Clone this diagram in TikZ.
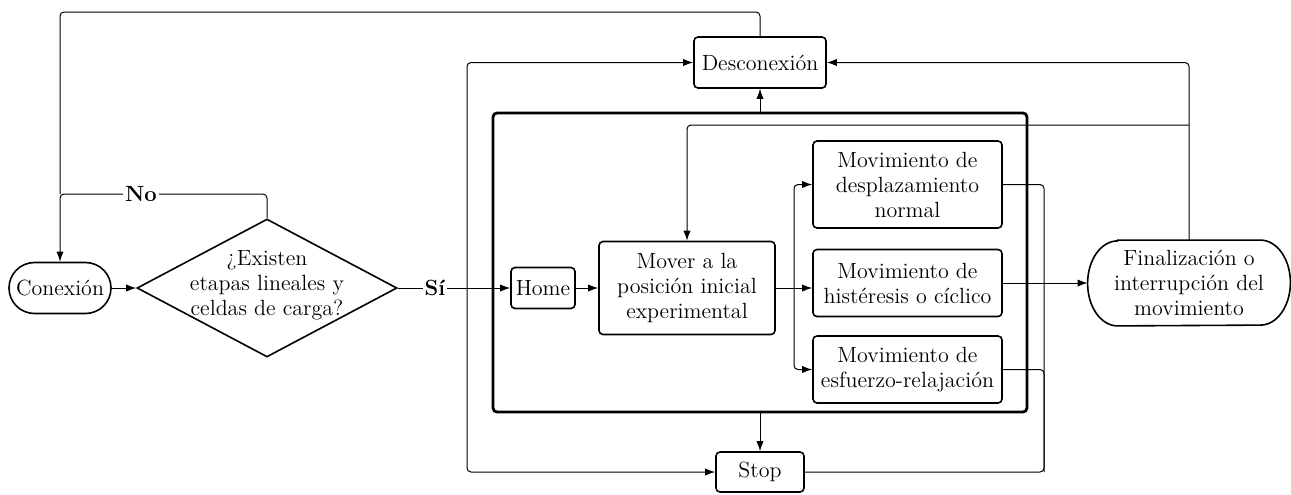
\documentclass[tikz,border=0pt]{standalone}
\usetikzlibrary{arrows.meta,shapes.geometric,shapes.misc}
\begin{document}
\begin{tikzpicture}[x=0.5pt,y=-0.5pt,
  every node/.style={font=\fontsize{11}{12.5}\selectfont},
  box/.style={draw,line width=0.8pt,rounded corners=2pt,align=center,inner sep=0pt},
  pill/.style={draw,line width=0.8pt,align=center,inner sep=0pt},
  conn/.style={line width=0.5pt,rounded corners=2pt},
  arr/.style={conn,-{Latex[length=5pt,width=3.6pt]}},
  lbl/.style={fill=white,inner sep=1pt,font=\fontsize{11}{12.5}\selectfont\bfseries}]
\useasboundingbox (0,0) rectangle (1291,494);

% zone
\node[draw,line width=1.4pt,rounded corners=2pt,minimum width=267pt,minimum height=149.5pt,inner sep=0pt] (zone) at (760,262.5) {};

% nodes
\node[pill,rounded corners=12.75pt,minimum width=51pt,minimum height=25.5pt] (conex) at (60,288) {Conexión};
\node[diamond,draw,line width=0.8pt,minimum width=130pt,minimum height=69pt,inner sep=0pt] (q) at (267,288) {};
\node[align=center,inner sep=0pt] (qt) at (267,285) {¿Existen\\etapas lineales y\\celdas de carga?};
\node[box,minimum width=32pt,minimum height=20.5pt] (home) at (543,288) {Home};
\node[box,minimum width=88pt,minimum height=46.5pt] (mover) at (687,288) {Mover a la\\posición inicial\\experimental};
\node[box,minimum width=94.5pt,minimum height=43.5pt] (m1) at (907.5,184.5) {Movimiento de\\desplazamiento\\normal};
\node[box,minimum width=94.5pt,minimum height=33.5pt] (m2) at (907.5,283) {Movimiento de\\histéresis o cíclico};
\node[box,minimum width=94.5pt,minimum height=33.5pt] (m3) at (907.5,369.5) {Movimiento de\\esfuerzo-relajación};
\node[align=center,inner sep=0pt,minimum width=101pt,minimum height=42.5pt] (final) at (1189,283) {Finalización o\\interrupción del\\movimiento};
\draw[line width=0.8pt] ([xshift=15pt]final.north west) -- ([xshift=-15pt]final.north east)
  arc[start angle=90,end angle=-90,x radius=15pt,y radius=21.25pt]
  -- ([xshift=15pt]final.south west)
  arc[start angle=270,end angle=90,x radius=15pt,y radius=21.25pt] -- cycle;
\node[box,minimum width=66pt,minimum height=25.5pt] (desc) at (760,62.5) {Desconexión};
\node[box,minimum width=44pt,minimum height=20pt] (stop) at (760,472) {Stop};

% coordinates
\coordinate (topL) at (60,12);
\coordinate (noJ) at (60,194);
\coordinate (sj) at (467,288);
\coordinate (br) at (794,288);
\coordinate (cb) at (1044,472);
\coordinate (lp) at (1189,125);

% connectors
\draw[arr] (conex.east) -- (q.west);
\draw[arr] (q.north) |- (noJ) -- (conex.north);
\draw[conn] (desc.north) |- (topL) -- (noJ);
\draw[arr] (q.east) -- (home.west);
\draw[arr] (sj) |- (desc.west);
\draw[arr] (sj) |- (stop.west);
\draw[arr] (home.east) -- (mover.west);
\draw[conn] (mover.east) -- (br);
\draw[arr] (br) |- (m1.west);
\draw[arr] (br) -- (m2.west |- br);
\draw[arr] (br) |- (m3.west);
\draw[arr] (m2.east) -- (final.west);
\draw[conn] (m1.east) -| (cb) -- (stop.east);
\draw[conn] (m3.east) -| (cb);
\draw[arr] (final.north) |- (desc.east);
\draw[arr] (lp) -| (mover.north);
\draw[arr] (zone.north) -- (desc.south);
\draw[arr] (zone.south) -- (stop.north);

% labels
\node[lbl] (nol) at (141,194) {No};
\node[lbl] (sil) at (435,288) {Sí};
\end{tikzpicture}
\end{document}
